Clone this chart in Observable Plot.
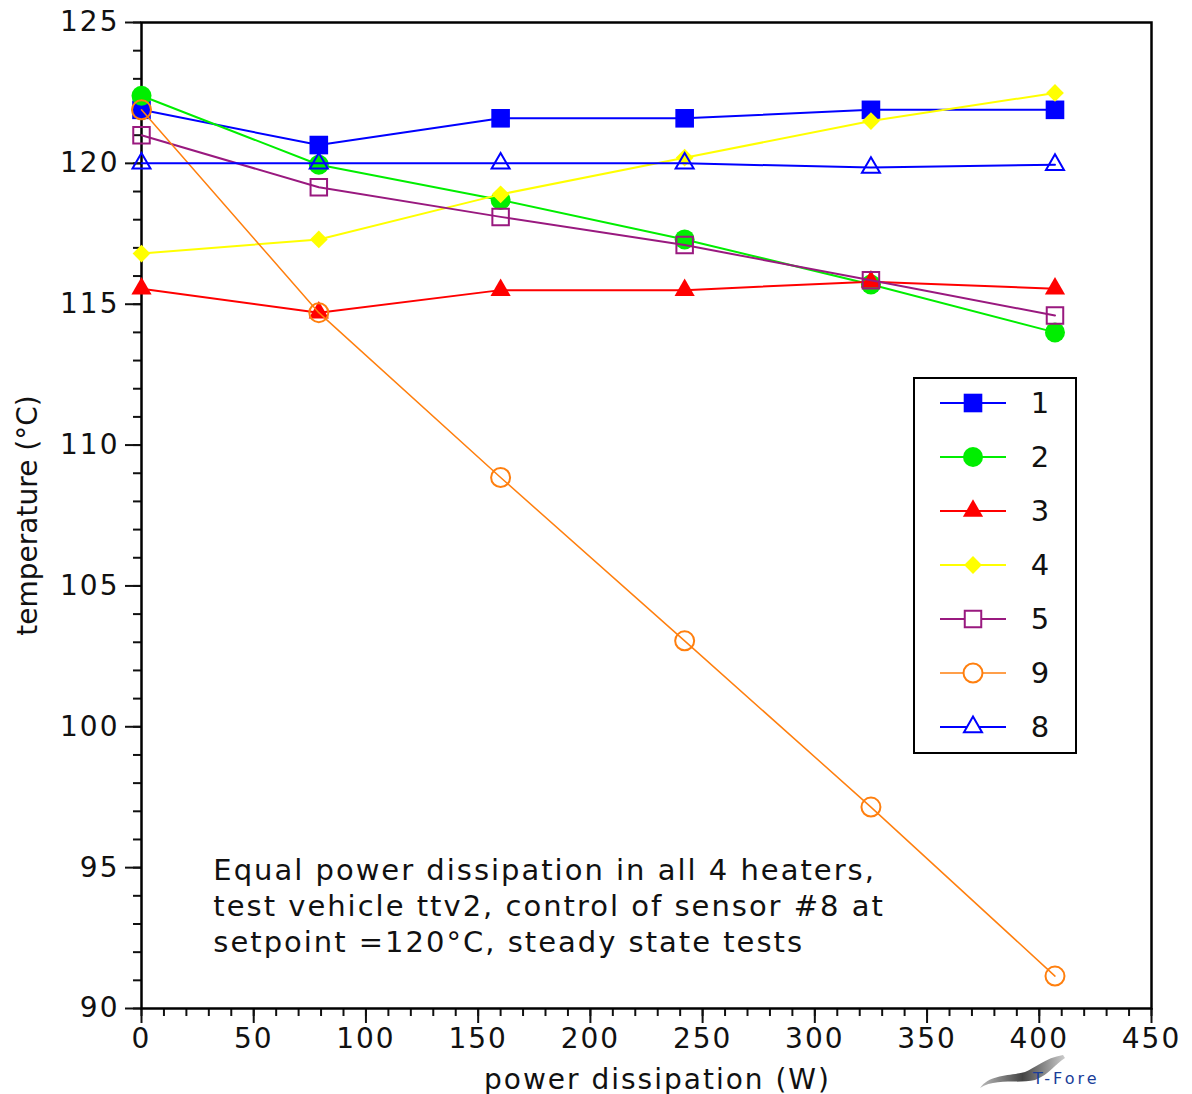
<!DOCTYPE html>
<html>
<head>
<meta charset="utf-8">
<script src="https://cdn.jsdelivr.net/npm/d3@7"></script>
<script src="https://cdn.jsdelivr.net/npm/@observablehq/plot@0.6"></script>
<style>
  html, body { margin: 0; padding: 0; background: white; }
  #wrap { position: relative; width: 1192px; height: 1094px; overflow: hidden; background: white; font-family: "DejaVu Sans", sans-serif; }
</style>
</head>
<body>
<div id="wrap"></div>
<script>
// ---- data ----
const powerW = [0, 79, 160, 242, 325, 407];
const sensorNames = ["1", "2", "3", "4", "5", "9", "8"];
const temp1 = [121.9, 120.65, 121.6, 121.6, 121.9, 121.9];
const temp2 = [122.4, 119.95, 118.7, 117.3, 115.7, 114.0];
const temp3 = [115.55, 114.7, 115.5, 115.5, 115.8, 115.55];
const temp4 = [116.8, 117.3, 118.9, 120.2, 121.5, 122.5];
const temp5 = [121.0, 119.15, 118.1, 117.1, 115.85, 114.6];
const temp9 = [121.9, 114.7, 108.85, 103.05, 97.15, 91.15];
const temp8 = [120.0, 120.0, 120.0, 120.0, 119.85, 119.95];
const xTicks = [0, 50, 100, 150, 200, 250, 300, 350, 400, 450];
const yTicks = [90, 95, 100, 105, 110, 115, 120, 125];
const xLabel = "power dissipation (W)";
const yLabel = "temperature (°C)";
const noteLines = [
  "Equal power dissipation in all 4 heaters,",
  "test vehicle ttv2, control of sensor #8 at",
  "setpoint =120°C, steady state tests"
];
const noteAt = {x: 32, y: 93.7};

// ---- styles ----
const styles = {
  "1": {color: "#0000ff", symbol: "square",   r: 10.5, filled: true,  lw: 2},
  "2": {color: "#00ee00", symbol: "circle",   r: 10,   filled: true,  lw: 2},
  "3": {color: "#ff0000", symbol: "triangle", r: 7.5,  filled: true,  lw: 2},
  "4": {color: "#ffff00", symbol: "diamond2", r: 8,    filled: true,  lw: 2},
  "5": {color: "#99197f", symbol: "square2",  r: 10.5, filled: false, lw: 2},
  "9": {color: "#ff7f0e", symbol: "circle",   r: 9.5,  filled: false, lw: 1.5},
  "8": {color: "#0000ff", symbol: "triangle2",r: 8.6,  filled: false, lw: 2}
};
const seriesValues = {"1": temp1, "2": temp2, "3": temp3, "4": temp4, "5": temp5, "9": temp9, "8": temp8};

const rows = sensorNames.flatMap(name => powerW.map((p, i) => ({sensor: name, power: p, temp: seriesValues[name][i]})));

const font = "DejaVu Sans, sans-serif";

const marks = [
  Plot.axisX({ticks: d3.range(0, 451, 10), tickSize: 8, tickFormat: () => "", label: null, strokeWidth: 2}),
  Plot.axisX({ticks: xTicks, tickSize: 15, tickPadding: 5, strokeWidth: 2, fontSize: 28, label: null}),
  Plot.axisY({ticks: d3.range(90, 126, 1), tickSize: 8, tickFormat: () => "", label: null, strokeWidth: 2}),
  Plot.axisY({ticks: yTicks, tickSize: 16, tickPadding: 6, strokeWidth: 2, fontSize: 28,
    label: yLabel, labelAnchor: "center", labelArrow: "none", labelOffset: 124}),
  Plot.text([xLabel], {frameAnchor: "bottom", text: d => d, dx: 11, dy: 80, lineAnchor: "bottom", fontSize: 28, fill: "#111"}),
  Plot.frame({stroke: "black", strokeWidth: 2.5})
];
for (const name of sensorNames) {
  const st = styles[name];
  const data = rows.filter(d => d.sensor === name);
  marks.push(Plot.line(data, {x: "power", y: "temp", stroke: st.color, strokeWidth: st.lw}));
  marks.push(Plot.dot(data, {
    x: "power", y: "temp", symbol: st.symbol, r: st.r,
    fill: st.filled ? st.color : "none",
    stroke: st.filled ? "none" : st.color,
    strokeWidth: st.filled ? 0 : 2
  }));
}
marks.push(Plot.text([noteLines.join("\n")], {
  x: () => noteAt.x, y: () => noteAt.y, text: d => d,
  textAnchor: "start", lineAnchor: "middle", lineHeight: 1.24, fontSize: 29, fill: "#111"
}));

const chart = Plot.plot({
  width: 1192, height: 1094,
  marginLeft: 141, marginRight: 41, marginTop: 22, marginBottom: 86,
  x: {domain: [0, 450]},
  y: {domain: [90, 125]},
  style: {fontFamily: font, fontSize: "28px", background: "white", color: "#111", letterSpacing: "2px"},
  marks
});
// the rotated y label is set without extra spacing
d3.select(chart).selectAll("text").filter(function() { return this.textContent === yLabel; })
  .style("letter-spacing", "0px");
const wrap = document.getElementById("wrap");
wrap.appendChild(chart);

// ---- legend ----
const legendW = 164, legendH = 377;
const lg = d3.create("svg").attr("width", legendW).attr("height", legendH)
  .style("position", "absolute").style("left", "913px").style("top", "377px");
lg.append("rect").attr("x", 1).attr("y", 1).attr("width", legendW - 2).attr("height", legendH - 2)
  .attr("fill", "white").attr("stroke", "black").attr("stroke-width", 2);
const symTypes = {
  square: d3.symbolSquare, circle: d3.symbolCircle, triangle: d3.symbolTriangle,
  diamond2: d3.symbolDiamond2, square2: d3.symbolSquare2, triangle2: d3.symbolTriangle2
};
sensorNames.forEach((name, i) => {
  const st = styles[name];
  const cy = 26 + i * 54;
  const g = lg.append("g").attr("transform", `translate(0,${cy})`);
  g.append("line").attr("x1", 27).attr("x2", 93).attr("y1", 0).attr("y2", 0)
    .attr("stroke", st.color).attr("stroke-width", st.lw);
  g.append("path").attr("transform", "translate(60,0)")
    .attr("d", d3.symbol(symTypes[st.symbol], Math.PI * st.r * st.r)())
    .attr("fill", st.filled ? st.color : "white")
    .attr("stroke", st.filled ? "none" : st.color).attr("stroke-width", 2);
  g.append("text").attr("x", 127).attr("y", 0).attr("dy", "0.35em").attr("text-anchor", "middle")
    .attr("font-family", font).attr("font-size", 29).attr("fill", "#111").text(name);
});
wrap.appendChild(lg.node());

// ---- logo fragment (bottom right) ----
const logo = d3.create("svg").attr("width", 217).attr("height", 36)
  .style("position", "absolute").style("left", "975px").style("top", "1054px");
const grad = logo.append("defs").append("linearGradient").attr("id", "gr").attr("x1", 0).attr("x2", 1);
grad.append("stop").attr("offset", 0).attr("stop-color", "#bbb");
grad.append("stop").attr("offset", 0.5).attr("stop-color", "#444");
grad.append("stop").attr("offset", 1).attr("stop-color", "#ccc");
logo.append("path").attr("d", "M5,34 C20,24 45,30 60,26 C75,20 80,10 90,4 L88,1 C70,4 60,14 50,18 C35,22 15,20 5,34 Z")
  .attr("fill", "url(#gr)");
logo.append("text").attr("x", 58).attr("y", 30).attr("font-family", font).attr("font-size", 16)
  .attr("letter-spacing", "3px").attr("fill", "#1a3d99").text("T-Fore");
wrap.appendChild(logo.node());
</script>
</body>
</html>
